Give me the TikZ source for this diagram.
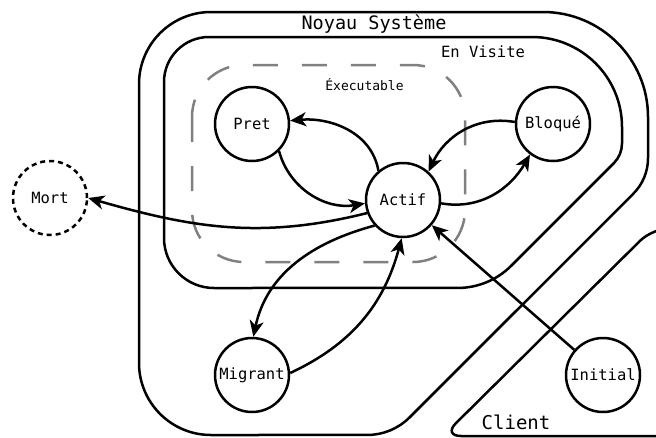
\documentclass[tikz,border=0pt]{standalone}
\usepackage{fontspec}
\setmonofont{DejaVu Sans Mono}
\usetikzlibrary{arrows.meta, positioning}

\begin{document}
\begin{tikzpicture}[x=1pt, y=1pt, line width=2.5pt,
		etat/.style={circle, draw, minimum size=74pt, inner sep=0pt, font=\ttfamily\fontsize{15.5}{18}\selectfont},
		zone/.style={font=\ttfamily\fontsize{#1}{#1}\selectfont, anchor=base},
		fleche/.style={-{Stealth[length=16pt,width=14pt,inset=4.5pt]}}]
			\useasboundingbox (0,0) rectangle (656,-437);
			\draw (139,-363) -- (139,-84) arc (180:90:72pt) -- (543,-12) arc (90:0:105pt) -- (648,-158.3) arc (0:-45:50pt) -- (409.6,-417.4) arc (-45:-90:60pt) -- (211,-435) arc (270:180:72pt) -- cycle;
			\draw (164,-238) -- (164,-82) arc (180:90:45pt) -- (532,-37) arc (90:0:90pt) -- (622,-143.4) arc (0:-45:28pt) -- (511.3,-265.7) arc (-45:-90:76pt) -- (214,-288) arc (270:180:50pt) -- cycle;
			\draw[rounded corners=18] (700,-228) -- (653,-228) -- (443,-436) -- (700,-436);
			\draw[gray, dash pattern=on 25pt off 24pt, rounded corners=52] (192,-65) rectangle (465,-262);
			\node[zone=18.5] (noyau) at (374,-29.3) {Noyau Système};
			\node[zone=15.5] (visite) at (483,-57) {En Visite};
			\node[zone=13] (exec) at (364.5,-90) {Éxecutable};
			\node[zone=19] (client) at (516,-429) {Client};
			\node[etat] (Pret) at (252,-124) {Pret};
			\node[etat] (Bloque) at (553,-124) {Bloqué};
			\node[etat] (Actif) at (403,-200) {Actif};
			\node[etat, dash pattern=on 5pt off 4pt] (Mort) at (50,-198) {Mort};
			\node[etat] (Migrant) at (252,-375) {Migrant};
			\node[etat] (Initial) at (603,-375) {Initial};
			\foreach \from/\to/\o/\i in {Actif.130/Pret.5/100/5, Pret.-45/Actif.185/-75/190, Actif.-5/Bloque.-127/-10/-120, Bloque.177/Actif.48/170/65, Actif.200/Mort.east/194/-16, Actif.222/Migrant.88/195/78, Migrant.3/Actif.-92/25/-105}
				\draw[fleche] (\from) to[out=\o, in=\i] (\to);
			\draw[fleche] (Initial) -- (Actif);
		\end{tikzpicture}
\end{document}
